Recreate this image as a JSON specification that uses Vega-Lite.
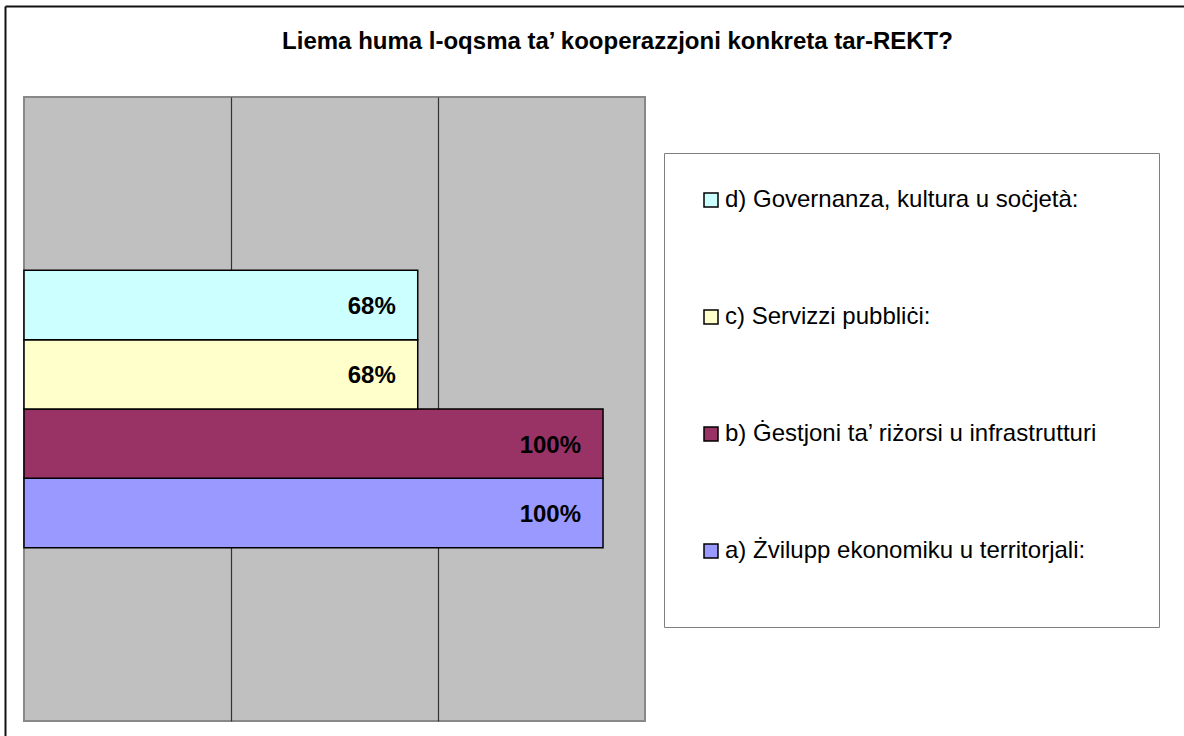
{
  "$schema": "https://vega.github.io/schema/vega-lite/v6.json",
  "autosize": {"type": "none"},
  "padding": {"left": 24, "top": 97, "right": 539, "bottom": 15},
  "width": 621,
  "height": 624,
  "background": "white",
  "title": {
    "text": "Liema huma l-oqsma ta’ kooperazzjoni konkreta tar-REKT?",
    "font": "Liberation Sans",
    "fontSize": 24,
    "fontWeight": "bold",
    "color": "black",
    "anchor": "middle",
    "frame": "group",
    "dx": 283,
    "baseline": "alphabetic",
    "offset": -70
  },
  "config": {
    "view": {"fill": "#C0C0C0", "stroke": "#888888", "strokeWidth": 2},
    "font": "Liberation Sans"
  },
  "data": {
    "values": [
      {"cat": "a) Żvilupp ekonomiku u territorjali:", "value": 1.0},
      {"cat": "b) Ġestjoni ta’ riżorsi u infrastrutturi", "value": 1.0},
      {"cat": "c) Servizzi pubbliċi:", "value": 0.68},
      {"cat": "d) Governanza, kultura u soċjetà:", "value": 0.68}
    ]
  },
  "layer": [
    {
      "encoding": {
        "y": {
          "field": "cat",
          "type": "nominal",
          "scale": {
            "domain": [" ", "  ", "d) Governanza, kultura u soċjetà:", "c) Servizzi pubbliċi:", "b) Ġestjoni ta’ riżorsi u infrastrutturi", "a) Żvilupp ekonomiku u territorjali:", "   ", "    "],
            "paddingInner": 0,
            "paddingOuter": 0.5
          },
          "axis": null
        },
        "x": {
          "field": "value",
          "type": "quantitative",
          "scale": {"domain": [0, 1.0725], "nice": false, "zero": true},
          "axis": {
            "values": [0.3575, 0.715],
            "labels": false,
            "ticks": false,
            "domain": false,
            "title": null,
            "grid": true,
            "gridColor": "#333333",
            "gridWidth": 1.2,
            "gridOpacity": 1
          }
        }
      },
      "layer": [
        {
          "mark": {"type": "bar", "stroke": "black", "strokeWidth": 1.5},
          "encoding": {
            "color": {
              "field": "cat",
              "type": "nominal",
              "scale": {
                "domain": ["d) Governanza, kultura u soċjetà:", "c) Servizzi pubbliċi:", "b) Ġestjoni ta’ riżorsi u infrastrutturi", "a) Żvilupp ekonomiku u territorjali:"],
                "range": ["#CCFFFF", "#FFFFCC", "#993366", "#9999FF"]
              },
              "legend": {
                "orient": "none",
                "legendX": 640,
                "legendY": 56,
                "title": [" ", " "],
                "titleOrient": "right",
                "titleFontSize": 24,
                "titleLineHeight": 408,
                "titlePadding": 27,
                "titleLimit": 2000,
                "titleFont": "Liberation Sans",
                "padding": 35,
                "fillColor": "white",
                "strokeColor": "#808080",
                "symbolType": "square",
                "symbolSize": 196,
                "symbolStrokeColor": "black",
                "symbolStrokeWidth": 1.5,
                "symbolOpacity": 1,
                "labelFont": "Liberation Sans",
                "labelFontSize": 24,
                "labelColor": "black",
                "labelOffset": 2,
                "labelLimit": 1000,
                "rowPadding": 93
              }
            }
          }
        },
        {
          "mark": {
            "type": "text",
            "align": "right",
            "baseline": "middle",
            "dx": -22,
            "dy": 2,
            "font": "Liberation Sans",
            "fontSize": 24,
            "fontWeight": "bold",
            "color": "black"
          },
          "encoding": {
            "text": {"field": "value", "type": "quantitative", "format": ".0%"}
          }
        }
      ]
    },
    {
      "mark": {"type": "point", "opacity": 0},
      "encoding": {
        "x": {
          "field": "value",
          "type": "quantitative",
          "scale": {"domain": [0, 1], "range": [-19, 1160], "nice": false, "zero": false},
          "axis": {"orient": "top", "offset": 91, "domainColor": "#111111", "domainWidth": 2, "ticks": false, "labels": false, "grid": false, "title": null}
        },
        "y": {
          "field": "value",
          "type": "quantitative",
          "scale": {"domain": [0, 1], "range": [639, -91], "nice": false, "zero": false},
          "axis": {"orient": "left", "offset": 19, "domainColor": "#111111", "domainWidth": 2, "ticks": false, "labels": false, "grid": false, "title": null}
        }
      }
    }
  ],
  "resolve": {
    "scale": {"x": "independent", "y": "independent"},
    "axis": {"x": "independent", "y": "independent"}
  }
}
